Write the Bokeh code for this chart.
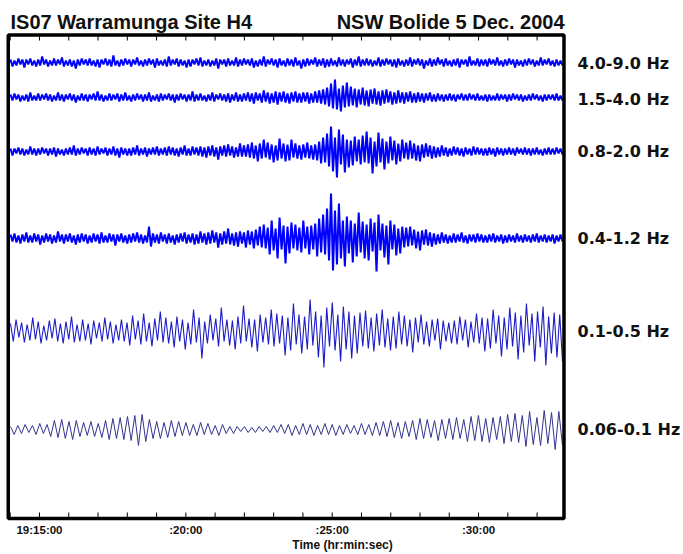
import numpy as np
from bokeh.plotting import figure
from bokeh.models import Range1d
from bokeh.core.properties import value
from bokeh.embed import file_html
from bokeh.resources import INLINE

# ---------------- data ----------------
# time axis in minutes after 19:00 UTC
t_start = 14.01
t_end = 32.868
major_ticks = [15, 20, 25, 30]
minor_ticks = list(range(14, 33))
tick_labels = ["19:15:00", ":20:00", ":25:00", ":30:00"]

band_labels = ["4.0-9.0 Hz", "1.5-4.0 Hz", "0.8-2.0 Hz", "0.4-1.2 Hz", "0.1-0.5 Hz", "0.06-0.1 Hz"]

# successive half-cycle peak amplitudes (arbitrary units)
trace_4_9hz = [
    3,-4,2,-3,4,-2,3,-5,3,-2,4,-3,2,-4,3,-3,6,-2,3,-4,
    2,-3,4,-3,3,-2,5,-4,2,-3,3,-4,2,-6,3,-3,4,-2,3,-3,
    4,-3,2,-4,3,-5,3,-2,4,-3,3,-4,7,-3,2,-4,3,-3,4,-2,
    3,-4,3,-2,5,-3,2,-4,3,-3,4,-2,3,-5,4,-3,2,-3,3,-4,
    6,-3,3,-2,4,-4,3,-3,2,-5,3,-4,3,-2,4,-3,5,-4,2,-3,
    3,-4,2,-3,4,-6,3,-2,3,-4,4,-3,2,-3,5,-4,3,-3,4,-2,
    3,-3,4,-5,2,-4,3,-3,6,-4,3,-2,4,-3,3,-5,4,-3,2,-4,
    4,-3,3,-4,5,-3,2,-6,3,-4,4,-3,3,-2,5,-4,3,-3,4,-5,
    3,-4,4,-3,2,-4,5,-3,3,-4,3,-2,4,-5,3,-3,6,-4,3,-3,
    4,-3,3,-4,2,-3,5,-4,3,-3,4,-2,3,-4,3,-5,4,-3,2,-4,
    3,-3,5,-4,3,-2,4,-3,3,-6,2,-3,4,-4,3,-3,5,-2,3,-4,
    4,-3,2,-4,3,-3,4,-5,3,-2,3,-4,6,-3,2,-3,4,-4,3,-3,
    3,-4,4,-2,3,-3,5,-3,2,-4,3,-3,4,-2,3,-5,3,-3,2,-4,
    3,-3,4,-2,3,-4,2,-3,5,-3,3,-2,4,-3,2,-4,3,-3,2,-3,
]

trace_1p5_4hz = [
    3,-3,4,-2,3,-4,2,-3,3,-4,5,-3,2,-3,4,-3,3,-2,4,-3,
    3,-4,2,-3,5,-3,3,-4,3,-2,4,-3,3,-5,2,-3,4,-3,3,-4,
    3,-2,4,-3,6,-3,3,-4,2,-3,4,-3,3,-2,4,-4,3,-3,5,-3,
    2,-4,3,-3,4,-2,3,-4,3,-3,5,-4,2,-3,3,-4,4,-3,3,-2,
    4,-3,3,-5,3,-3,4,-2,3,-4,3,-3,6,-4,3,-3,4,-3,2,-4,
    3,-3,5,-4,3,-2,4,-3,3,-4,4,-5,3,-3,5,-4,3,-4,4,-3,
    5,-4,4,-6,5,-3,4,-5,7,-4,5,-6,4,-5,6,-7,5,-4,6,-5,
    4,-6,5,-4,6,-5,4,-5,5,-4,5,-6,4,-5,6,-5,7,-6,8,-7,
    10,-9,14,-11,18,-12,9,-14,12,-10,15,-9,11,-8,9,-10,8,-7,10,-8,
    7,-9,8,-6,9,-7,6,-8,7,-6,8,-5,6,-7,5,-6,7,-5,5,-6,
    5,-4,6,-5,4,-5,5,-4,4,-5,4,-3,5,-4,3,-4,4,-3,3,-4,
    3,-3,4,-3,3,-4,3,-2,4,-3,3,-3,4,-2,3,-3,4,-3,2,-3,
    3,-4,3,-3,2,-3,4,-3,3,-2,3,-4,3,-3,4,-2,3,-3,3,-4,
    2,-3,3,-3,4,-2,3,-3,2,-4,3,-3,3,-2,3,-3,4,-3,2,-3,
]

trace_0p8_2hz = [
    3,-4,3,-2,4,-3,3,-4,2,-3,5,-3,3,-4,3,-3,4,-2,3,-4,
    3,-3,4,-5,3,-3,2,-4,3,-3,4,-3,6,-4,3,-3,4,-2,3,-4,
    4,-3,3,-4,5,-3,3,-2,4,-4,3,-3,5,-4,3,-6,4,-3,3,-4,
    3,-4,4,-3,6,-4,3,-3,4,-5,3,-3,4,-3,5,-4,3,-3,4,-4,
    5,-3,4,-4,3,-5,4,-3,6,-4,3,-4,5,-3,4,-4,5,-5,4,-6,
    5,-4,6,-5,4,-8,5,-4,6,-5,7,-4,5,-6,4,-5,8,-5,6,-5,
    7,-6,9,-7,6,-10,8,-7,12,-6,9,-8,7,-11,6,-9,13,-7,8,-10,
    7,-9,12,-6,8,-7,6,-8,7,-6,9,-7,6,-8,7,-9,10,-12,14,-11,
    18,-15,25,-20,14,-26,22,-13,17,-21,12,-16,11,-14,15,-10,12,-13,16,-11,
    20,-12,14,-22,10,-15,19,-11,13,-18,10,-12,15,-9,11,-13,8,-10,12,-7,
    9,-8,11,-7,8,-9,6,-10,7,-6,8,-5,6,-7,5,-6,4,-5,6,-4,
    4,-5,3,-4,5,-3,4,-4,3,-5,4,-3,3,-4,5,-3,4,-3,3,-4,
    3,-4,4,-3,3,-5,4,-3,3,-4,3,-3,4,-3,3,-4,4,-2,3,-3,
    4,-3,3,-4,3,-3,4,-3,2,-4,3,-3,4,-3,3,-3,4,-2,3,-3,
]

trace_0p4_1p2hz = [
    4,-3,5,-4,3,-5,4,-3,6,-4,3,-4,5,-3,4,-6,3,-4,5,-3,
    4,-5,3,-4,7,-3,4,-5,4,-3,5,-4,3,-6,4,-4,5,-3,4,-5,
    3,-4,5,-3,4,-5,6,-4,3,-4,5,-3,4,-7,4,-3,5,-4,3,-5,
    4,-4,5,-3,6,-4,4,-5,3,-4,12,-8,5,-4,4,-5,6,-3,4,-5,
    5,-4,3,-6,4,-4,5,-3,6,-5,4,-4,5,-6,4,-5,7,-4,5,-6,
    6,-5,8,-4,6,-9,5,-6,7,-5,10,-6,5,-7,6,-8,7,-5,6,-9,
    8,-6,7,-10,9,-7,12,-9,14,-10,11,-16,18,-12,10,-20,21,-11,13,-25,
    12,-15,16,-10,14,-12,11,-14,18,-10,12,-16,13,-11,15,-18,20,-14,24,-16,
    30,-22,45,-32,28,-26,35,-20,18,-28,22,-15,18,-24,15,-18,26,-14,17,-20,
    14,-22,20,-13,16,-33,24,-12,15,-19,13,-26,18,-11,14,-17,10,-15,12,-9,
    11,-8,12,-7,9,-10,7,-12,8,-6,9,-7,6,-8,5,-6,4,-5,6,-4,
    4,-5,3,-4,5,-4,4,-3,6,-4,3,-5,4,-3,4,-4,5,-3,4,-4,
    3,-4,4,-3,5,-4,3,-3,4,-5,3,-4,4,-3,3,-4,5,-3,3,-4,
    4,-3,3,-4,4,-3,5,-4,3,-3,4,-4,3,-3,4,-5,3,-3,4,-3,
]

trace_0p1_0p5hz = [
    8,-10,12,-6,9,-11,7,-9,14,-8,10,-12,6,-9,11,-7,13,-10,8,-12,
    10,-8,15,-11,7,-10,12,-9,8,-13,11,-7,9,-10,14,-8,10,-12,7,-9,
    12,-10,9,-14,16,-8,11,-13,18,-10,9,-15,13,-9,20,-11,14,-12,10,-16,
    15,-10,12,-18,9,-13,22,-11,14,-27,10,-12,17,-9,13,-15,24,-10,12,-14,
    11,-18,15,-12,26,-10,13,-16,12,-20,17,-11,14,-13,22,-15,18,-12,16,-24,
    14,-19,28,-13,17,-22,15,-18,32,-14,20,-26,16,-36,24,-15,29,-19,17,-30,
    25,-18,20,-27,16,-22,19,-15,21,-17,14,-20,18,-14,22,-16,13,-19,15,-17,
    20,-13,16,-15,12,-21,14,-11,17,-13,10,-15,12,-9,13,-18,11,-10,9,-12,
    11,-13,15,-9,12,-16,10,-11,18,-12,14,-20,13,-17,22,-12,16,-25,14,-18,
    24,-15,19,-28,16,-21,28,-14,18,-30,20,-16,25,-34,15,-22,19,-26,17,-30,
]

trace_0p06_0p1hz = [
    3,-5,4,-4,5,-3,4,-5,6,-4,5,-7,9,-8,10,-9,8,-10,9,-7,
    7,-6,8,-7,6,-8,9,-10,11,-9,12,-10,13,-11,14,-16,15,-12,10,-9,
    8,-9,7,-8,9,-7,8,-6,7,-6,5,-6,7,-5,6,-5,4,-6,5,-4,
    3,-4,3,-2,3,-3,2,-3,3,-2,3,-3,4,-3,5,-4,5,-6,4,-5,
    6,-5,5,-6,4,-5,6,-5,5,-6,4,-5,5,-4,4,-5,6,-5,5,-6,
    7,-6,8,-7,9,-8,7,-9,8,-7,9,-10,11,-9,10,-8,9,-11,10,-9,
    11,-10,12,-9,10,-12,13,-11,14,-12,11,-13,12,-10,13,-14,15,-12,16,-13,
    14,-17,18,-15,12,-16,19,-14,17,-20,18,-16,
]

traces = [trace_4_9hz, trace_1p5_4hz, trace_0p8_2hz, trace_0p4_1p2hz,
          trace_0p1_0p5hz, trace_0p06_0p1hz]

# ---------------- layout / style ----------------
baselines = [456, 421, 367, 280, 187, 89]
label_y = [455, 419, 367, 280, 187, 89]
colors = ["#0000ff", "#0000ff", "#0000ff", "#0000ff", "#1c1cc8", "#34348f"]
widths = [2.0, 2.0, 2.0, 2.0, 1.1, 1.0]
box_left, box_right, box_bottom, box_top = 13.933, 32.919, 0, 483.5
label_x = 33.381
ink = "#111111"

p = figure(width=683, height=554,
           x_range=Range1d(13.668, 37.002), y_range=Range1d(-36, 518),
           output_backend="svg", toolbar_location=None,
           x_axis_location=None, y_axis_location=None, min_border=0,
           background_fill_color="white", border_fill_color="white",
           outline_line_color=None)
p.grid.visible = False

for vals, base, col, w in zip(traces, baselines, colors, widths):
    v = np.array(vals, dtype=float)
    t = np.linspace(t_start, t_end, len(v))
    p.line(t, v + base, line_color=col, line_width=w)

# frame
p.quad(left=[box_left], right=[box_right], bottom=[box_bottom], top=[box_top],
       fill_color=None, line_color="black", line_width=3.5)

# tick marks (inside the frame, top and bottom)
p.segment(x0=minor_ticks, x1=minor_ticks, y0=box_bottom, y1=box_bottom + 6,
          line_color="black", line_width=1)
p.segment(x0=minor_ticks, x1=minor_ticks, y0=box_top, y1=box_top - 5.5,
          line_color="black", line_width=1)

# tick labels
p.text(x=major_ticks, y=[-11.5] * len(major_ticks), text=tick_labels,
       text_font=value("Liberation Sans"), text_font_style="bold",
       text_font_size="11.5px", text_color=ink,
       text_align="center", text_baseline="middle")

# axis title
p.text(x=[25.352], y=[-26.5], text=["Time (hr:min:sec)"],
       text_font=value("Liberation Sans"), text_font_style="bold",
       text_font_size="12px", text_color=ink,
       text_align="center", text_baseline="middle")

# band labels
p.text(x=[label_x] * len(band_labels), y=label_y, text=band_labels,
       text_font=value("DejaVu Sans"), text_font_style="bold",
       text_font_size="16px", text_color=ink,
       text_align="left", text_baseline="middle")

# titles
p.text(x=[14.01], y=[497], text=["IS07 Warramunga Site H4"],
       text_font=value("Liberation Sans"), text_font_style="bold",
       text_font_size="20px", text_color=ink,
       text_align="left", text_baseline="alphabetic")
p.text(x=[32.937], y=[497], text=["NSW Bolide 5 Dec. 2004"],
       text_font=value("Liberation Sans"), text_font_style="bold",
       text_font_size="20px", text_color=ink,
       text_align="right", text_baseline="alphabetic")

open("out.html", "w").write(file_html(p, INLINE))
